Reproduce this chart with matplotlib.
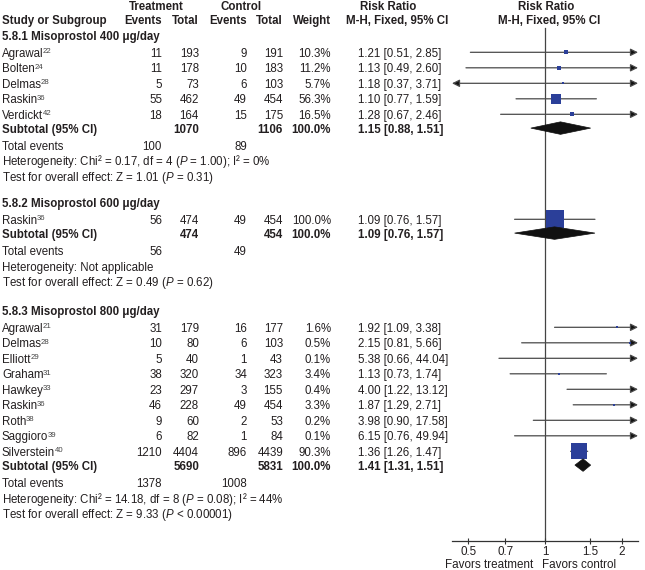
import matplotlib
matplotlib.use("Agg")
import matplotlib.pyplot as plt
from matplotlib.patches import Polygon
from matplotlib.textpath import TextPath
from matplotlib.font_manager import FontProperties
import numpy as np

plt.rcParams['font.family'] = ['Liberation Sans', 'DejaVu Sans']
plt.rcParams['mathtext.fontset'] = 'custom'
plt.rcParams['mathtext.rm'] = 'Liberation Sans'
plt.rcParams['mathtext.it'] = 'Liberation Sans:italic'
plt.rcParams['mathtext.bf'] = 'Liberation Sans:bold'

# ---------------- data ----------------
group_titles = ["5.8.1 Misoprostol 400 μg/day",
                "5.8.2 Misoprostol 600 μg/day",
                "5.8.3 Misoprostol 800 μg/day"]

g1_names = ["Agrawal", "Bolten", "Delmas", "Raskin", "Verdickt"]
g1_refs = ["22", "24", "28", "36", "42"]
g1_ev_t = [11, 11, 5, 55, 18]
g1_tot_t = [193, 178, 73, 462, 164]
g1_ev_c = [9, 10, 6, 49, 15]
g1_tot_c = [191, 183, 103, 454, 175]
g1_weight = [10.3, 11.2, 5.7, 56.3, 16.5]
g1_rr = [1.21, 1.13, 1.18, 1.10, 1.28]
g1_lo = [0.51, 0.49, 0.37, 0.77, 0.67]
g1_hi = [2.85, 2.60, 3.71, 1.59, 2.46]

g2_names = ["Raskin"]
g2_refs = ["36"]
g2_ev_t = [56]
g2_tot_t = [474]
g2_ev_c = [49]
g2_tot_c = [454]
g2_weight = [100.0]
g2_rr = [1.09]
g2_lo = [0.76]
g2_hi = [1.57]

g3_names = ["Agrawal", "Delmas", "Elliott", "Graham", "Hawkey", "Raskin",
            "Roth", "Saggioro", "Silverstein"]
g3_refs = ["21", "28", "29", "31", "33", "36", "38", "39", "40"]
g3_ev_t = [31, 10, 5, 38, 23, 46, 9, 6, 1210]
g3_tot_t = [179, 80, 40, 320, 297, 228, 60, 82, 4404]
g3_ev_c = [16, 6, 1, 34, 3, 49, 2, 1, 896]
g3_tot_c = [177, 103, 43, 323, 155, 454, 53, 84, 4439]
g3_weight = [1.6, 0.5, 0.1, 3.4, 0.4, 3.3, 0.2, 0.1, 90.3]
g3_rr = [1.92, 2.15, 5.38, 1.13, 4.00, 1.87, 3.98, 6.15, 1.36]
g3_lo = [1.09, 0.81, 0.66, 0.73, 1.22, 1.29, 0.90, 0.76, 1.26]
g3_hi = [3.38, 5.66, 44.04, 1.74, 13.12, 2.71, 17.58, 49.94, 1.47]

sub_tot_t = [1070, 474, 5690]
sub_tot_c = [1106, 454, 5831]
sub_rr = [1.15, 1.09, 1.41]
sub_lo = [0.88, 0.76, 1.31]
sub_hi = [1.51, 1.57, 1.51]
sub_ev_t = [100, 56, 1378]
sub_ev_c = [89, 49, 1008]
het_text = [r"Heterogeneity: Chi² = 0.17, df = 4 ($\mathit{P}$ = 1.00); I² = 0%",
            "Heterogeneity: Not applicable",
            r"Heterogeneity: Chi² = 14.18, df = 8 ($\mathit{P}$ = 0.08); I² = 44%"]
test_text = [r"Test for overall effect: Z = 1.01 ($\mathit{P}$ = 0.31)",
             r"Test for overall effect: Z = 0.49 ($\mathit{P}$ = 0.62)",
             r"Test for overall effect: Z = 9.33 ($\mathit{P}$ < 0.00001)"]

axis_ticks = [0.5, 0.7, 1, 1.5, 2]
axis_ticklabels = ["0.5", "0.7", "1", "1.5", "2"]

groups = [
    (g1_names, g1_refs, g1_ev_t, g1_tot_t, g1_ev_c, g1_tot_c, g1_weight, g1_rr, g1_lo, g1_hi),
    (g2_names, g2_refs, g2_ev_t, g2_tot_t, g2_ev_c, g2_tot_c, g2_weight, g2_rr, g2_lo, g2_hi),
    (g3_names, g3_refs, g3_ev_t, g3_tot_t, g3_ev_c, g3_tot_c, g3_weight, g3_rr, g3_lo, g3_hi),
]

# ---------------- layout ----------------
W, H = 645, 570
fig = plt.figure(figsize=(W / 100, H / 100), dpi=100)
tx = fig.add_axes([0, 0, 1, 1])
tx.set_xlim(0, W)
tx.set_ylim(H, 0)
tx.axis('off')

AX_L, AX_R, AX_B = 452, 638, 541
fx = fig.add_axes([AX_L / W, (H - AX_B) / H, (AX_R - AX_L) / W, AX_B / H])
fx.set_xscale('log')
XMIN, XMAX = 0.432, 2.315
fx.set_xlim(XMIN, XMAX)
fx.set_ylim(AX_B, 0)
fx.patch.set_alpha(0)
for s in ['left', 'right', 'top']:
    fx.spines[s].set_visible(False)
fx.spines['bottom'].set_color('#333333')
fx.spines['bottom'].set_linewidth(0.9)
fx.set_yticks([])
fx.set_xticks(axis_ticks)
fx.set_xticklabels(axis_ticklabels)
fx.xaxis.set_minor_locator(matplotlib.ticker.NullLocator())
fx.tick_params(axis='x', direction='inout', length=5, width=0.8, color='#333333',
               labelsize=8.4, pad=1, labelcolor='#231f20')

FS = 8.3
TC = '#231f20'
BLUE = '#2b3f99'
LINEC = '#4a4a4a'
FP = FontProperties(family='Liberation Sans')

X_EVT, X_TOTT, X_EVC, X_TOTC, X_W, X_RR = 162, 199, 247, 283, 331, 358


def t(x, y, s, ha='left', bold=False, size=FS, color=TC, dy=4.1):
    return tx.text(x, y + dy, s, ha=ha, va='baseline', fontsize=size,
                   fontweight='bold' if bold else 'normal', color=color)


def name_with_ref(x, y, name, ref):
    t(x, y, name)
    w_pt = TextPath((0, 0), name, size=FS, prop=FP).get_extents().x1
    t(x + w_pt * 100 / 72 + 0.2, y, ref, size=5.6, color='#444444', dy=0.6)


# headers
t(156, 5.5, "Treatment", ha='center', bold=True)
t(241, 5.5, "Control", ha='center', bold=True)
t(388, 5.5, "Risk Ratio", ha='center', bold=True)
t(546, 5.5, "Risk Ratio", ha='center', bold=True)
t(2, 20, "Study or Subgroup", bold=True)
t(X_EVT, 20, "Events", ha='right', bold=True)
t(X_TOTT, 20, "Total", ha='right', bold=True)
t(X_EVC, 20, "Events", ha='right', bold=True)
t(X_TOTC, 20, "Total", ha='right', bold=True)
t(X_W, 20, "Weight", ha='right', bold=True)
t(397, 20, "M-H, Fixed, 95% CI", ha='center', bold=True)
t(549, 20, "M-H, Fixed, 95% CI", ha='center', bold=True)

# reference line at 1
fx.plot([1, 1], [28, AX_B], color='#444444', lw=0.9, zorder=1)


def ci_line(y, lo, hi):
    a = max(lo, XMIN)
    b = min(hi, XMAX)
    left_arrow = lo < XMIN
    right_arrow = hi > XMAX
    if left_arrow and right_arrow:
        style = '<|-|>'
    elif right_arrow:
        style = '-|>'
    elif left_arrow:
        style = '<|-'
    else:
        style = '-'
    fx.annotate('', xy=(b, y), xytext=(a, y), xycoords='data',
                arrowprops=dict(arrowstyle=style, color=LINEC, lw=0.9,
                                shrinkA=0, shrinkB=0, mutation_scale=11,
                                fc='#111111', ec=LINEC),
                annotation_clip=False, zorder=2)


def diamond(y, est, lo, hi, h=12.5):
    poly = Polygon([(lo, y), (est, y - h / 2), (hi, y), (est, y + h / 2)],
                   closed=True, fc='#111111', ec='#111111', lw=0.5, zorder=4)
    fx.add_patch(poly)


y_headers = [36, 203, 311]
STEP = 15.5
for gi, grp in enumerate(groups):
    names, refs, evt, tott, evc, totc, wt, rr, lo, hi = grp
    y = y_headers[gi]
    t(2, y, group_titles[gi], bold=True)
    y += 16.8
    for i in range(len(names)):
        name_with_ref(2, y, names[i], refs[i])
        t(X_EVT, y, str(evt[i]), ha='right')
        t(X_TOTT, y, str(tott[i]), ha='right')
        t(X_EVC, y, str(evc[i]), ha='right')
        t(X_TOTC, y, str(totc[i]), ha='right')
        t(X_W, y, f"{wt[i]:.1f}%", ha='right')
        t(X_RR, y, f"{rr[i]:.2f} [{lo[i]:.2f}, {hi[i]:.2f}]")
        ci_line(y - 0.5, lo[i], hi[i])
        if XMIN < rr[i] < XMAX:
            side_px = 2 + 15.7 * wt[i] / 100
            fx.plot([rr[i]], [y - 0.5], marker='s', ms=side_px * 0.72,
                    color=BLUE, mew=0, zorder=3)
        if i < len(names) - 1:
            y += STEP
    y += 14.3
    t(2, y, "Subtotal (95% CI)", bold=True)
    t(X_TOTT, y, str(sub_tot_t[gi]), ha='right', bold=True)
    t(X_TOTC, y, str(sub_tot_c[gi]), ha='right', bold=True)
    t(X_W, y, "100.0%", ha='right', bold=True)
    t(X_RR, y, f"{sub_rr[gi]:.2f} [{sub_lo[gi]:.2f}, {sub_hi[gi]:.2f}]", bold=True)
    diamond(y - 1, sub_rr[gi], sub_lo[gi], sub_hi[gi])
    y += 16.8
    t(2, y, "Total events")
    t(X_EVT, y, str(sub_ev_t[gi]), ha='right')
    t(X_EVC, y, str(sub_ev_c[gi]), ha='right')
    y += STEP
    t(2, y, het_text[gi])
    y += STEP
    t(2, y, test_text[gi])

# favors labels
t(489, 563.5, "Favors treatment", ha='center', size=8.4)
t(579, 563.5, "Favors control", ha='center', size=8.4)

fig.savefig("out.png", dpi=100)
